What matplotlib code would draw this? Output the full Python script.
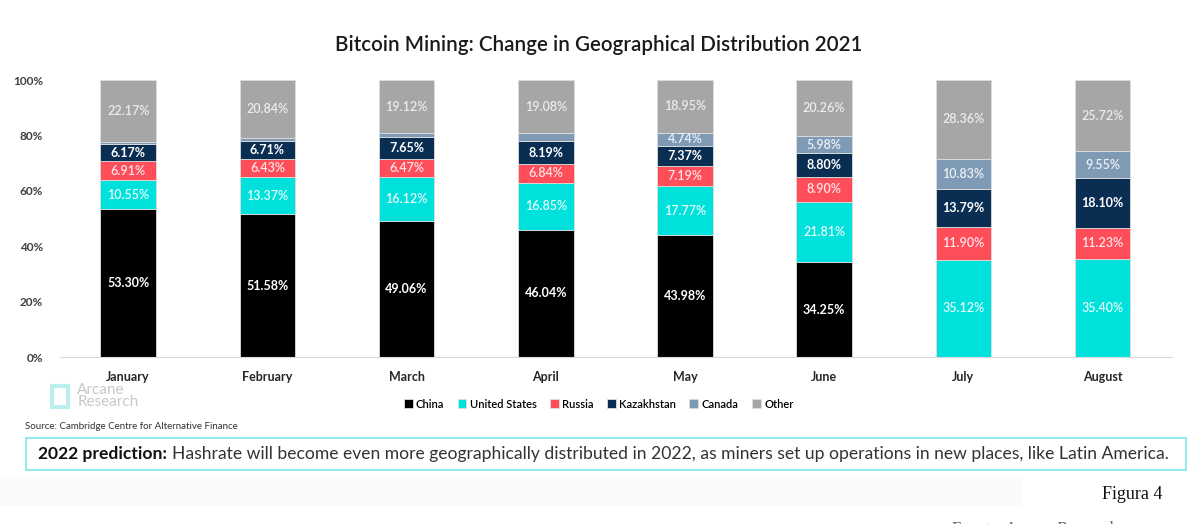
import matplotlib.pyplot as plt
from matplotlib.patches import Rectangle
import numpy as np

plt.rcParams["font.family"] = ["Lato", "DejaVu Sans"]

months = ["January", "February", "March", "April", "May", "June", "July", "August"]
china = [53.30, 51.58, 49.06, 46.04, 43.98, 34.25, 0, 0]
usa = [10.55, 13.37, 16.12, 16.85, 17.77, 21.81, 35.12, 35.40]
russia = [6.91, 6.43, 6.47, 6.84, 7.19, 8.90, 11.90, 11.23]
kazakhstan = [6.17, 6.71, 7.65, 8.19, 7.37, 8.80, 13.79, 18.10]
canada = [0.90, 1.07, 1.58, 3.00, 4.74, 5.98, 10.83, 9.55]
other = [22.17, 20.84, 19.12, 19.08, 18.95, 20.26, 28.36, 25.72]
# canada is only labelled from May on
canada_shown = [False, False, False, False, True, True, True, True]

series = [
    ("China", china, "#000000", "#ffffff", "bold"),
    ("United States", usa, "#00e1dc", "#e6fbfa", "semibold"),
    ("Russia", russia, "#ff4d5a", "#ffe8ea", "semibold"),
    ("Kazakhstan", kazakhstan, "#0a2d52", "#ffffff", "bold"),
    ("Canada", canada, "#7f9ab5", "#eef2f6", "semibold"),
    ("Other", other, "#a6a6a6", "#ececec", "semibold"),
]

fig = plt.figure(figsize=(11.9, 5.24), dpi=100)
ax = fig.add_axes([0.0504, 0.3187, 0.9346, 0.5283])

x = np.arange(len(months))
bottom = np.zeros(len(months))
handles = []
for name, vals, col, tcol, wt in series:
    vals = np.array(vals)
    b = ax.bar(x, vals, 0.40, bottom=bottom, color=col, edgecolor="#dddddd",
               linewidth=0.6, label=name)
    handles.append(b)
    for i, v in enumerate(vals):
        if v <= 0:
            continue
        if name == "Canada" and not canada_shown[i]:
            continue
        ax.text(x[i], bottom[i] + v / 2, f"{v:.2f}%", ha="center", va="center",
                color=tcol, fontsize=9, fontweight=wt)
    bottom += vals

ax.set_xlim(-0.49, 7.5)
ax.set_ylim(0, 100)
ax.set_yticks(range(0, 101, 20))
ax.set_yticklabels([f"{t}%" for t in range(0, 101, 20)], fontsize=8.5,
                   fontweight="bold", color="#404040")
ax.set_xticks(x)
ax.set_xticklabels(months, fontsize=9, fontweight="bold", color="#262626")
ax.tick_params(length=0, pad=10)
ax.tick_params(axis="y", pad=12)
for s in ["top", "right", "left"]:
    ax.spines[s].set_visible(False)
ax.spines["bottom"].set_color("#d9d9d9")

fig.text(0.503, 0.914, "Bitcoin Mining: Change in Geographical Distribution 2021",
         ha="center", va="center", fontsize=14.8, fontweight="semibold", color="#1a1a1a")

fig.legend(handles=handles, loc="center", bbox_to_anchor=(0.503, 0.229), ncol=6,
           frameon=False, handlelength=0.8, handleheight=0.8,
           handletextpad=0.3, columnspacing=1.2, prop={"weight": "semibold", "size": 8})

# logo
fig.text(0.065, 0.244, "Arcane\nResearch", ha="left", va="center", fontsize=11,
         color="#c8c8c8", linespacing=0.85)
fig.patches.append(Rectangle((0.044, 0.224), 0.013, 0.04, transform=fig.transFigure,
                             facecolor="none", edgecolor="#bfeeee", linewidth=3))

fig.text(0.021, 0.187, "Source: Cambridge Centre for Alternative Finance",
         ha="left", va="center", fontsize=7, color="#333333")

fig.patches.append(Rectangle((0.022, 0.103), 0.975, 0.062, transform=fig.transFigure,
                             facecolor="white", edgecolor="#7fe6e6", linewidth=1.2))
t1 = fig.text(0.032, 0.134, "2022 prediction:", ha="left", va="center",
              fontsize=12.6, fontweight="bold", color="#111111")
fig.canvas.draw()
bb = t1.get_window_extent()
fig.text(bb.x1 / fig.bbox.width + 0.004, 0.134,
         "Hashrate will become even more geographically distributed in 2022, as miners set up operations in new places, like Latin America.",
         ha="left", va="center", fontsize=12.6, color="#333333")

fig.patches.append(Rectangle((0.0, 0.035), 0.859, 0.055, transform=fig.transFigure,
                             facecolor="#fafafa", edgecolor="none"))
fig.text(0.977, 0.057, "Figura 4", ha="right", va="center", fontsize=13,
         family="Liberation Serif", color="#111111")
fig.text(0.80, -0.010, "Fuente: Arcane Research", ha="left", va="center", fontsize=12,
         family="Liberation Serif", color="#666666")

fig.savefig("out.png", dpi=100)
